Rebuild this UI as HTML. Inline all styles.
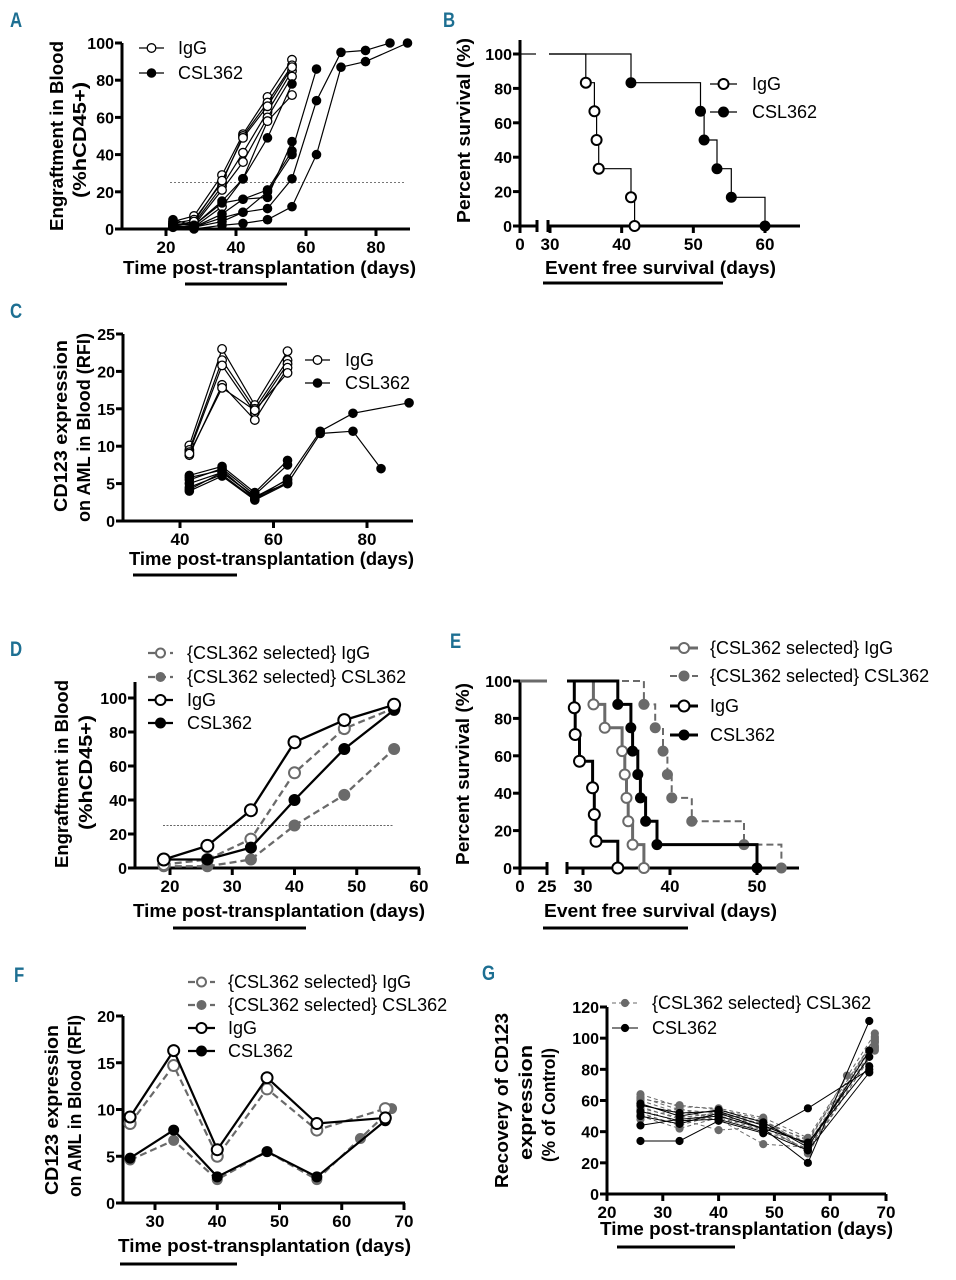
<!DOCTYPE html>
<html><head><meta charset="utf-8"><style>
html,body{margin:0;padding:0;background:#fff;}
svg{display:block;font-family:"Liberation Sans",Arial,sans-serif;}
</style></head><body>
<svg id="fig" width="956" height="1280" viewBox="0 0 956 1280" xmlns="http://www.w3.org/2000/svg"></svg>
<script>
// ---------- DATA ----------
// Panel A: engraftment
const aDaysIgG=[22,28,36,42,49,56];
const aIgG1=[4,7,29,51,71,91];
const aIgG2=[3,5,25,50,68,88];
const aIgG3=[2,3,23,41,63,85];
const aIgG4=[1,2,21,36,60,82];
const aIgG5=[1,1,12,27,58,72];
const aIgG6=[2,4,26,49,66,87];
const aDaysC1=[22,28,36,42,49,56];
const aCsl1=[5,2,15,27,49,78];
const aDaysC2=[22,28,36,42,49,56,63];
const aCsl2=[3,2,14,16,21,42,86];
const aDaysC3=[22,28,36,42,49,56];
const aCsl3=[2,1,8,16,17,47];
const aDaysC4=[22,28,36,42,49,56,63,70,77,84];
const aCsl4=[2,1,6,9,11,27,69,95,96,100];
const aDaysC5=[22,28,36,42,49,56,63,70,77,89];
const aCsl5=[1,0,2,3,5,12,40,87,90,100];
const aDaysC6=[22,28,36,42,49,56];
const aCsl6=[1,1,4,9,20,40];
const aXTicks=[20,40,60,80];
const aYTicks=[0,20,40,60,80,100];
// Panel B: survival
const bIgGTimes=[35,36.2,36.5,36.8,41.3,41.8];
const bIgGSurv=[83.3,66.7,50,33.3,16.7,0];
const bCslTimes=[41.3,51,51.5,53.3,55.3,60];
const bCslSurv=[83.3,66.7,50,33.3,16.7,0];
const bXTicks=[0,30,40,50,60];
const bYTicks=[0,20,40,60,80,100];
// Panel C: CD123 RFI
const cDaysIgG=[42,49,56,63];
const cIgG1=[10.1,23,15.5,22.7];
const cIgG2=[9.5,21.5,15,21.5];
const cIgG3=[9.2,20.8,14.5,21];
const cIgG4=[8.8,18.2,13.5,20.5];
const cIgG5=[9,17.8,14.8,19.8];
const cDaysCsl=[42,49,56,63];
const cCsl1=[6.1,7.3,3.8,8.1];
const cCsl2=[5.5,7,3.5,7.5];
const cCsl3=[5,6.5,3.2,5.5];
const cCsl4=[4.5,6.2,2.9,5.2];
const cCsl5=[4,6,2.8,5];
const cDaysCsl6=[42,49,56,63,70,77,89];
const cCsl6=[5.8,6.8,3,5.6,12,14.4,15.8];
const cDaysCsl7=[42,49,56,63,70,77,83];
const cCsl7=[4.2,6.5,3.3,5,11.7,12,7];
const cXTicks=[40,60,80];
const cYTicks=[0,5,10,15,20,25];
// Panel D: engraftment means
const dDays=[19,26,33,40,48,56];
const dSelIgG=[2,5,17,56,82,94];
const dSelCsl=[1,1,5,25,43,70];
const dIgG=[5,13,34,74,87,96];
const dCsl=[5,5,12,40,70,93];
const dXTicks=[20,30,40,50,60];
const dYTicks=[0,20,40,60,80,100];
// Panel E: survival
const eSelIgGTimes=[31.2,32.5,34.5,34.8,35,35.2,35.7,37];
const eSelIgGSurv=[87.5,75,62.5,50,37.5,25,12.5,0];
const eSelCslTimes=[37,38.3,39.2,39.7,40.2,42.5,48.5,52.8];
const eSelCslSurv=[87.5,75,62.5,50,37.5,25,12.5,0];
const eIgGTimes=[29,29.1,29.6,31.1,31.3,31.5,34];
const eIgGSurv=[85.7,71.4,57.1,42.9,28.6,14.3,0];
const eCslTimes=[34,35.5,35.7,36.3,36.6,37.2,38.5,50];
const eCslSurv=[87.5,75,62.5,50,37.5,25,12.5,0];
const eXTicks=[0,25,30,40,50];
const eYTicks=[0,20,40,60,80,100];
// Panel F
const fDays=[26,33,40,48,56,67];
const fIgG=[9.2,16.3,5.7,13.4,8.5,9.1];
const fSelIgG=[8.5,14.7,5,12.2,7.8,10.1];
const fCsl=[4.8,7.8,2.8,5.5,2.8,8.8];
const fDaysSelCsl=[26,33,40,48,56,63,68];
const fSelCsl=[4.6,6.7,2.5,5.5,2.5,6.9,10.1];
const fXTicks=[30,40,50,60,70];
const fYTicks=[0,5,10,15,20];
// Panel G
const gDaysBlack=[26,33,40,48,56,67];
const gBlack1=[34,34,47,39,55,80];
const gBlack2=[44,48,50,42,20,111];
const gBlack3=[57,52,53,44,32,88];
const gBlack4=[53,47,48,40,28,78];
const gBlack5=[58,50,54,46,30,92];
const gBlack6=[50,45,52,42,33,82];
const gDaysGrey=[26,33,40,48,56,68];
const gGrey1=[64,56,55,49,36,103];
const gGrey2=[62,54,52,47,34,100];
const gGrey3=[60,52,50,45,32,98];
const gGrey4=[58,50,48,32,30,95];
const gGrey5=[56,48,41,43,28,92];
const gGrey6=[54,46,53,44,27,101];
const gGrey7=[52,44,51,47,31,97];
const gGrey8=[50,42,49,41,29,94];
const gGrey9=[48,55,47,46,35,99];
const gGrey10=[61,57,54,48,26,93];
const gDaysGrey11=[26,33,40,48,56,63];
const gGrey11=[55,49,52,45,33,76];
const gXTicks=[20,30,40,50,60,70];
const gYTicks=[0,20,40,60,80,100,120];

// ---------- DRAWING ----------
const NS='http://www.w3.org/2000/svg';
const svg=document.getElementById('fig');
const GREY='#6a6a6a';
function mk(tag,at,name,parent){
  const el=document.createElementNS(NS,tag);
  for(const k in at) el.setAttribute(k,at[k]);
  
  
  (parent||svg).appendChild(el);
  return el;
}
function txt(x,y,s,at,name){
  const el=mk('text',Object.assign({x:x,y:y},at),name);
  el.textContent=s;
  return el;
}
function linScale(d0,p0,d1,p1){return v=>p0+(v-d0)*(p1-p0)/(d1-d0);}

function axes(p,name){
  const g=mk('g',{},name+'-axes');
  mk('line',{x1:p.ax,y1:p.yTop,x2:p.ax,y2:p.ay+1.5,stroke:'#000','stroke-width':3},'y-axis-line',g);
  (p.xSegs||[[p.ax,p.xEnd]]).forEach(s=>{
    mk('line',{x1:s[0]-1.5,y1:p.ay,x2:s[1],y2:p.ay,stroke:'#000','stroke-width':3},'x-axis-line',g);
  });
  (p.breakTicks||[]).forEach(bx=>{
    mk('line',{x1:bx,y1:p.ay-6,x2:bx,y2:p.ay+6,stroke:'#000','stroke-width':3},'axis-break-mark',g);
  });
  p.yTicks.forEach(v=>{
    const y=p.sy(v);
    mk('line',{x1:p.ax-7,y1:y,x2:p.ax,y2:y,stroke:'#000','stroke-width':3},'y-tick',g);
    txt(p.ax-8,y+6,String(v),{'text-anchor':'end','font-size':16,'font-weight':'bold'},'y-tick-label');
  });
  p.xTicks.forEach(v=>{
    const x=p.sx(v);
    mk('line',{x1:x,y1:p.ay,x2:x,y2:p.ay+7,stroke:'#000','stroke-width':3},'x-tick',g);
    txt(x,p.ay+24,String(v),{'text-anchor':'middle','font-size':17,'font-weight':'bold'},'x-tick-label');
  });
}
function marker(x,y,type,r,color,sw,name){
  mk('circle',{cx:x,cy:y,r:r,fill:type==='open'?'#fff':color,stroke:color,'stroke-width':type==='open'?sw:1},name);
}
function series(p,xs,ys,o,name){
  const pts=xs.map((d,i)=>p.sx(d).toFixed(1)+','+p.sy(ys[i]).toFixed(1)).join(' ');
  const at={points:pts,fill:'none',stroke:o.color,'stroke-width':o.w};
  if(o.dash) at['stroke-dasharray']=o.dash;
  mk('polyline',at,name+'-line');
  xs.forEach((d,i)=>marker(p.sx(d),p.sy(ys[i]),o.type,o.r,o.color,o.msw||1.3,name+'-point'));
}
function km(p,startX,times,surv,o,name){
  let d='M'+startX+','+p.sy(100);
  let prev=100;
  times.forEach((t,i)=>{
    const x=p.sx(t);
    d+=' L'+x.toFixed(1)+','+p.sy(prev).toFixed(1)+' L'+x.toFixed(1)+','+p.sy(surv[i]).toFixed(1);
    prev=surv[i];
  });
  const at={d:d,fill:'none',stroke:o.color,'stroke-width':o.w};
  if(o.dash) at['stroke-dasharray']=o.dash;
  mk('path',at,name+'-curve');
  times.forEach((t,i)=>marker(p.sx(t),p.sy(surv[i]),o.type,o.r,o.color,o.msw||1.5,name+'-point'));
}
function legend(x1,x2,y,o,label,tx,name){
  const at={x1:x1,y1:y,x2:x2,y2:y,stroke:o.color,'stroke-width':o.lw||o.w};
  if(o.dash) at['stroke-dasharray']=o.dash;
  mk('line',at,name+'-swatch-line');
  marker((x1+x2)/2,y,o.type,o.r,o.color,o.msw||1.3,name+'-swatch-marker');
  txt(tx,y+6,label,{'font-size':18},name+'-label');
}
function vtitle(cx,y1,y2,s,name){
  const cy=(y1+y2)/2;
  txt(0,0,s,{'font-size':18,'font-weight':'bold','text-anchor':'middle',textLength:(y2-y1),lengthAdjust:'spacingAndGlyphs',transform:'translate('+(cx+6)+','+cy+') rotate(-90)'},name);
}
function htitle(x1,x2,y,s,name){
  txt(x1,y,s,{'font-size':18,'font-weight':'bold',textLength:(x2-x1),lengthAdjust:'spacingAndGlyphs'},name);
}
function bar(x1,x2,y,name){mk('line',{x1:x1,y1:y,x2:x2,y2:y,stroke:'#000','stroke-width':3},name);}
function letter(x,y,s,name){
  txt(0,0,s,{'font-size':21,'font-weight':'bold',fill:'#1d6f92',transform:'translate('+x+','+y+') scale(0.8,1)'},name);
}

// ===== Panel A =====
letter(10,27,'A','panel-a-label');
const pA={ax:122,ay:229,yTop:43,xEnd:410,sx:linScale(20,166,80,376),sy:linScale(0,229,100,43),xTicks:aXTicks,yTicks:aYTicks};
axes(pA,'panel-a');
mk('line',{x1:170,y1:pA.sy(25),x2:406,y2:pA.sy(25),stroke:'#777','stroke-width':1,'stroke-dasharray':'2,2'},'panel-a-threshold-line');
const oAI={color:'#000',w:1.2,type:'open',r:4.3};
const oAC={color:'#000',w:1.2,type:'filled',r:4.3};
[aIgG1,aIgG2,aIgG3,aIgG4,aIgG5,aIgG6].forEach(s=>series(pA,aDaysIgG,s,oAI,'panel-a-igg'));
series(pA,aDaysC1,aCsl1,oAC,'panel-a-csl362');
series(pA,aDaysC2,aCsl2,oAC,'panel-a-csl362');
series(pA,aDaysC3,aCsl3,oAC,'panel-a-csl362');
series(pA,aDaysC4,aCsl4,oAC,'panel-a-csl362');
series(pA,aDaysC5,aCsl5,oAC,'panel-a-csl362');
series(pA,aDaysC6,aCsl6,oAC,'panel-a-csl362');
legend(139,164,48,oAI,'IgG',178,'panel-a-legend-igg');
legend(139,164,73,oAC,'CSL362',178,'panel-a-legend-csl362');
vtitle(57,41,231,'Engraftment in Blood','panel-a-y-title-1');
vtitle(80,82,198,'(%hCD45+)','panel-a-y-title-2');
htitle(123,416,274,'Time post-transplantation (days)','panel-a-x-title');
bar(185,287,284,'panel-a-underline');

// ===== Panel B =====
letter(443,27,'B','panel-b-label');
const bsx0=linScale(30,550,60,765);
const pB={ax:520,ay:226,yTop:40,xSegs:[[520,537],[548,800]],breakTicks:[537,548],sx:d=>d===0?520:bsx0(d),sy:linScale(0,226,100,54),xTicks:bXTicks,yTicks:bYTicks};
axes(pB,'panel-b');
mk('line',{x1:520,y1:pB.sy(100),x2:536,y2:pB.sy(100),stroke:'#000','stroke-width':1.2},'panel-b-start-line');
const oBI={color:'#000',w:1.2,type:'open',r:5,msw:2};
const oBC={color:'#000',w:1.2,type:'filled',r:5};
km(pB,549,bIgGTimes,bIgGSurv,oBI,'panel-b-igg');
km(pB,549,bCslTimes,bCslSurv,oBC,'panel-b-csl362');
legend(710,737,84,oBI,'IgG',752,'panel-b-legend-igg');
legend(710,737,112,oBC,'CSL362',752,'panel-b-legend-csl362');
vtitle(464,38,223,'Percent survival (%)','panel-b-y-title');
htitle(545,776,274,'Event free survival (days)','panel-b-x-title');
bar(543,723,283,'panel-b-underline');

// ===== Panel C =====
letter(10,318,'C','panel-c-label');
const pC={ax:123,ay:521,yTop:334,xEnd:413,sx:linScale(40,180,80,367),sy:linScale(0,521,25,334),xTicks:cXTicks,yTicks:cYTicks};
axes(pC,'panel-c');
const oCI={color:'#000',w:1.2,type:'open',r:4.3};
const oCC={color:'#000',w:1.2,type:'filled',r:4.3};
[cIgG1,cIgG2,cIgG3,cIgG4,cIgG5].forEach(s=>series(pC,cDaysIgG,s,oCI,'panel-c-igg'));
[cCsl1,cCsl2,cCsl3,cCsl4,cCsl5].forEach(s=>series(pC,cDaysCsl,s,oCC,'panel-c-csl362'));
series(pC,cDaysCsl6,cCsl6,oCC,'panel-c-csl362');
series(pC,cDaysCsl7,cCsl7,oCC,'panel-c-csl362');
legend(305,330,360,oCI,'IgG',345,'panel-c-legend-igg');
legend(305,330,383,oCC,'CSL362',345,'panel-c-legend-csl362');
vtitle(61,340,512,'CD123 expression','panel-c-y-title-1');
vtitle(84,333,522,'on AML in Blood (RFI)','panel-c-y-title-2');
htitle(129,414,565,'Time post-transplantation (days)','panel-c-x-title');
bar(133,237,575,'panel-c-underline');

// ===== Panel D =====
letter(10,656,'D','panel-d-label');
const pD={ax:135,ay:868,yTop:682,xEnd:420,sx:linScale(20,170,60,419),sy:linScale(0,868,100,698),xTicks:dXTicks,yTicks:dYTicks};
axes(pD,'panel-d');
mk('line',{x1:163,y1:pD.sy(25),x2:394,y2:pD.sy(25),stroke:'#666','stroke-width':1,'stroke-dasharray':'2,1.5'},'panel-d-threshold-line');
const oDSI={color:GREY,w:2.3,type:'open',r:5.5,dash:'7,4',msw:2};
const oDSC={color:GREY,w:2.3,type:'filled',r:5.5,dash:'7,4'};
const oDI={color:'#000',w:2.3,type:'open',r:6,msw:2};
const oDC={color:'#000',w:2.3,type:'filled',r:5.5};
series(pD,dDays,dSelCsl,oDSC,'panel-d-selected-csl362');
series(pD,dDays,dSelIgG,oDSI,'panel-d-selected-igg');
series(pD,dDays,dCsl,oDC,'panel-d-csl362');
series(pD,dDays,dIgG,oDI,'panel-d-igg');
legend(148,173,653,Object.assign({},oDSI,{r:4.5}),'{CSL362 selected} IgG',187,'panel-d-legend-selected-igg');
legend(148,173,677,Object.assign({},oDSC,{r:4.5}),'{CSL362 selected} CSL362',187,'panel-d-legend-selected-csl362');
legend(148,173,700,Object.assign({},oDI,{r:5}),'IgG',187,'panel-d-legend-igg');
legend(148,173,723,Object.assign({},oDC,{r:5}),'CSL362',187,'panel-d-legend-csl362');
vtitle(62,680,868,'Engraftment in Blood','panel-d-y-title-1');
vtitle(86,715,830,'(%hCD45+)','panel-d-y-title-2');
htitle(133,425,917,'Time post-transplantation (days)','panel-d-x-title');
bar(173,306,928,'panel-d-underline');

// ===== Panel E =====
letter(450,648,'E','panel-e-label');
const esx0=linScale(30,583,50,757);
const pE={ax:520,ay:868,yTop:681,xSegs:[[520,547],[567,799]],breakTicks:[547,567],sx:d=>d===0?520:(d===25?547:esx0(d)),sy:linScale(0,868,100,681),xTicks:eXTicks,yTicks:eYTicks};
axes(pE,'panel-e');
mk('line',{x1:520,y1:pE.sy(100),x2:547,y2:pE.sy(100),stroke:GREY,'stroke-width':3},'panel-e-start-line');
const oESI={color:GREY,w:3,type:'open',r:5,msw:2};
const oESC={color:GREY,w:2,type:'filled',r:5,dash:'7,4'};
const oEI={color:'#000',w:3,type:'open',r:5.5,msw:2};
const oEC={color:'#000',w:3,type:'filled',r:5};
km(pE,567,eSelCslTimes,eSelCslSurv,oESC,'panel-e-selected-csl362');
km(pE,567,eSelIgGTimes,eSelIgGSurv,oESI,'panel-e-selected-igg');
km(pE,567,eCslTimes,eCslSurv,oEC,'panel-e-csl362');
km(pE,567,eIgGTimes,eIgGSurv,oEI,'panel-e-igg');
legend(670,698,648,oESI,'{CSL362 selected} IgG',710,'panel-e-legend-selected-igg');
legend(670,698,676,oESC,'{CSL362 selected} CSL362',710,'panel-e-legend-selected-csl362');
legend(670,698,706,oEI,'IgG',710,'panel-e-legend-igg');
legend(670,698,735,oEC,'CSL362',710,'panel-e-legend-csl362');
vtitle(463,683,865,'Percent survival (%)','panel-e-y-title');
htitle(544,777,917,'Event free survival (days)','panel-e-x-title');
bar(543,688,928,'panel-e-underline');

// ===== Panel F =====
letter(14,982,'F','panel-f-label');
const pF={ax:123,ay:1203,yTop:1016,xEnd:405,sx:linScale(30,155,70,404),sy:linScale(0,1203,20,1016),xTicks:fXTicks,yTicks:fYTicks};
axes(pF,'panel-f');
const oFSI={color:GREY,w:2.2,type:'open',r:5.5,dash:'7,4',msw:2};
const oFSC={color:GREY,w:2.2,type:'filled',r:5,dash:'7,4'};
const oFI={color:'#000',w:2.2,type:'open',r:5.5,msw:2};
const oFC={color:'#000',w:2.2,type:'filled',r:5};
series(pF,fDaysSelCsl,fSelCsl,oFSC,'panel-f-selected-csl362');
series(pF,fDays,fCsl,oFC,'panel-f-csl362');
series(pF,fDays,fSelIgG,oFSI,'panel-f-selected-igg');
series(pF,fDays,fIgG,oFI,'panel-f-igg');
legend(188,215,982,Object.assign({},oFSI,{r:4.5}),'{CSL362 selected} IgG',228,'panel-f-legend-selected-igg');
legend(188,215,1005,Object.assign({},oFSC,{r:4.5}),'{CSL362 selected} CSL362',228,'panel-f-legend-selected-csl362');
legend(188,215,1028,Object.assign({},oFI,{r:5}),'IgG',228,'panel-f-legend-igg');
legend(188,215,1051,Object.assign({},oFC,{r:5}),'CSL362',228,'panel-f-legend-csl362');
vtitle(52,1025,1195,'CD123 expression','panel-f-y-title-1');
vtitle(75,1015,1197,'on AML in Blood (RFI)','panel-f-y-title-2');
htitle(118,411,1252,'Time post-transplantation (days)','panel-f-x-title');
bar(120,237,1264,'panel-f-underline');

// ===== Panel G =====
letter(482,980,'G','panel-g-label');
const pG={ax:607,ay:1194,yTop:1007,xEnd:886,sx:linScale(20,607,70,886),sy:linScale(0,1194,120,1007),xTicks:gXTicks,yTicks:gYTicks};
axes(pG,'panel-g');
const oGG={color:GREY,w:1,type:'filled',r:3.6,dash:'4,3'};
const oGB={color:'#000',w:1,type:'filled',r:3.6};
[gGrey1,gGrey2,gGrey3,gGrey4,gGrey5,gGrey6,gGrey7,gGrey8,gGrey9,gGrey10].forEach(s=>series(pG,gDaysGrey,s,oGG,'panel-g-selected-csl362'));
series(pG,gDaysGrey11,gGrey11,oGG,'panel-g-selected-csl362');
[gBlack1,gBlack2,gBlack3,gBlack4,gBlack5,gBlack6].forEach(s=>series(pG,gDaysBlack,s,oGB,'panel-g-csl362'));
legend(612,638,1003,oGG,'{CSL362 selected} CSL362',652,'panel-g-legend-selected-csl362');
legend(612,638,1028,oGB,'CSL362',652,'panel-g-legend-csl362');
vtitle(502,1013,1188,'Recovery of CD123','panel-g-y-title-1');
vtitle(526,1045,1160,'expression','panel-g-y-title-2');
vtitle(549,1048,1162,'(% of Control)','panel-g-y-title-3');
htitle(600,893,1235,'Time post-transplantation (days)','panel-g-x-title');
bar(617,735,1247,'panel-g-underline');
</script>
</body></html>
